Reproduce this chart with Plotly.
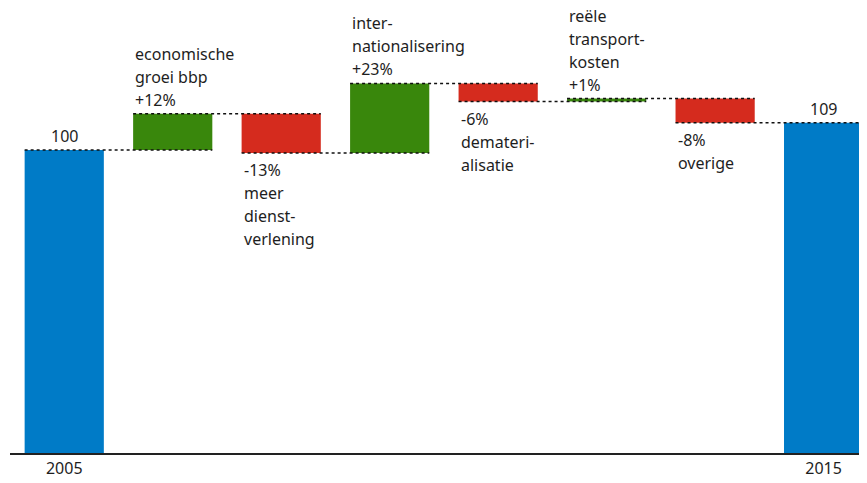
import plotly.graph_objects as go

# ---- data ----
categories = ["2005", "groei", "dienst", "intern", "demat", "transport", "overige", "2015"]
tick_labels = ["2005", "", "", "", "", "", "", "2015"]
start_value = 100
changes = [12, -13, 23, -6, 1, -8]
end_value = 109
change_labels = [
    ["economische", "groei bbp", "+12%"],
    ["-13%", "meer", "dienst-", "verlening"],
    ["inter-", "nationalisering", "+23%"],
    ["-6%", "demateri-", "alisatie"],
    ["reële", "transport-", "kosten", "+1%"],
    ["-8%", "overige"],
]
total_labels = ["100", "109"]

BLUE = "#007BC7"
GREEN = "#39870C"
RED = "#D52B1E"
TEXT = "#1e1e1e"
FONT = "Noto Sans"
BW = 0.73
LINE = 23

# ---- build bars ----
xs = list(range(len(categories)))
bases, heights, colors = [0], [start_value], [BLUE]
levels = [start_value]
cur = start_value
for c in changes:
    if c >= 0:
        bases.append(cur); heights.append(c); colors.append(GREEN)
    else:
        bases.append(cur + c); heights.append(-c); colors.append(RED)
    cur += c
    levels.append(cur)
bases.append(0); heights.append(end_value); colors.append(BLUE)

fig = go.Figure(go.Bar(
    x=xs, y=heights, base=bases, width=BW,
    marker=dict(color=colors, line=dict(width=0)),
    hoverinfo="skip",
))

shapes = []
for i, lv in enumerate(levels):
    shapes.append(dict(type="line", xref="x", yref="y",
                       x0=xs[i] - BW / 2, x1=xs[i + 1] + BW / 2, y0=lv, y1=lv,
                       line=dict(color="#111", width=1.5, dash="dot"), layer="above"))

annotations = []
for i, (c, lines) in enumerate(zip(changes, change_labels)):
    xi = xs[i + 1]
    if c >= 0:
        top = bases[i + 1] + heights[i + 1]
        for k, t in enumerate(reversed(lines)):
            annotations.append(dict(x=xi - BW / 2, y=top, xref="x", yref="y", text=t,
                                    showarrow=False, xanchor="left", yanchor="bottom",
                                    yshift=1 + k * LINE, font=dict(family=FONT, size=16, color=TEXT)))
    else:
        bot = bases[i + 1]
        for k, t in enumerate(lines):
            annotations.append(dict(x=xi - BW / 2, y=bot, xref="x", yref="y", text=t,
                                    showarrow=False, xanchor="left", yanchor="top",
                                    yshift=-4 - k * LINE, font=dict(family=FONT, size=16, color=TEXT)))
for xi, val, t in [(xs[0], start_value, total_labels[0]), (xs[-1], end_value, total_labels[1])]:
    annotations.append(dict(x=xi, y=val, xref="x", yref="y", text=t, showarrow=False,
                            xanchor="center", yanchor="bottom", yshift=1,
                            font=dict(family=FONT, size=16, color=TEXT)))

# page body adds an 8px offset; size the figure to compensate
fig.update_layout(
    width=859, height=475,
    margin=dict(l=2, r=0, t=0, b=30),
    paper_bgcolor="white", plot_bgcolor="white",
    showlegend=False,
    shapes=shapes, annotations=annotations,
    xaxis=dict(range=[-0.5, 7.4], tickmode="array", tickvals=xs, ticktext=tick_labels,
               showgrid=False, zeroline=False, showline=True, linecolor="#222", linewidth=1.5,
               ticks="", tickfont=dict(family=FONT, size=16, color=TEXT), fixedrange=True),
    yaxis=dict(range=[0, 146.9], visible=False, showgrid=False, zeroline=False, fixedrange=True),
)

fig.write_html("out.html")
